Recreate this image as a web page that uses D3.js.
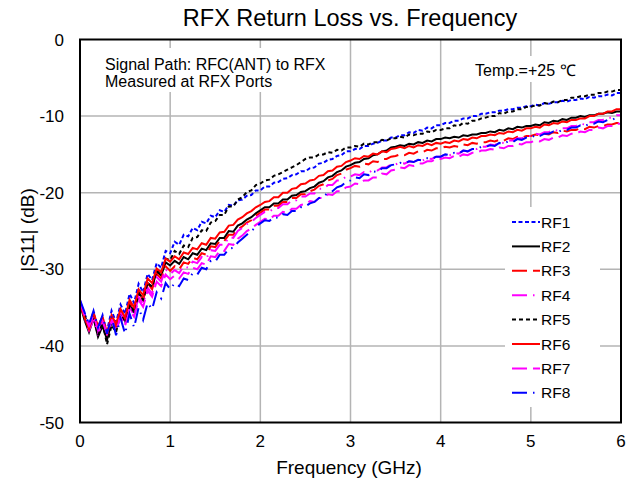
<!DOCTYPE html>
<html><head><meta charset="utf-8">
<script src="https://cdn.jsdelivr.net/npm/d3@7"></script>
<style>body{margin:0;background:#fff}svg text{font-family:"Liberation Sans",Arial,sans-serif;fill:#000}</style>
</head><body><svg id="c" width="632" height="482"></svg>
<script>
const FREQ = d3.range(121).map(i => +(i * 0.05).toFixed(2));
const X_TICKS = [0,1,2,3,4,5,6];
const Y_TICKS = [0,-10,-20,-30,-40,-50];
const SERIES_NAMES = ["RF1","RF2","RF3","RF4","RF5","RF6","RF7","RF8"];
const RF1 = [-34.2,-35.8,-37.2,-35.6,-37.8,-36.4,-38.0,-35.4,-36.9,-34.6,-35.8,-33.2,-34.4,-31.9,-33.0,-30.6,-31.4,-29.2,-29.8,-27.6,-27.9,
-26.4,-26.8,-25.5,-25.7,-24.6,-24.9,-23.8,-24.0,-23.0,-23.2,-22.3,-22.5,-21.6,-21.7,-21.0,-20.9,-20.4,-20.3,-19.7,-19.7,
-19.2,-19.2,-18.7,-18.6,-18.2,-18.1,-17.7,-17.6,-17.2,-17.2,-16.8,-16.7,-16.2,-16.1,-15.7,-15.6,-15.2,-15.1,-14.6,-14.6,
-14.3,-14.3,-13.9,-13.9,-13.6,-13.5,-13.2,-13.2,-12.8,-12.8,-12.5,-12.5,-12.1,-12.2,-11.8,-11.9,-11.5,-11.6,-11.2,-11.2,
-10.9,-10.9,-10.6,-10.6,-10.3,-10.3,-10.0,-10.0,-9.7,-9.7,-9.5,-9.5,-9.3,-9.3,-9.1,-9.1,-8.9,-8.9,-8.7,-8.7,
-8.5,-8.6,-8.3,-8.4,-8.2,-8.2,-8.0,-8.1,-7.9,-7.9,-7.7,-7.8,-7.5,-7.6,-7.4,-7.4,-7.2,-7.3,-7.0,-7.0];
const RF2 = [-34.6,-36.6,-38.2,-36.4,-38.8,-37.4,-39.2,-36.9,-37.8,-35.6,-36.6,-34.7,-35.4,-33.0,-33.9,-31.8,-32.3,-30.3,-30.8,-29.1,-29.5,
-28.9,-29.3,-28.4,-28.7,-27.9,-28.1,-27.3,-27.5,-26.6,-26.7,-25.9,-25.9,-25.0,-25.1,-24.3,-24.0,-23.5,-23.2,-22.7,-22.3,
-21.9,-21.9,-21.4,-21.4,-20.9,-20.9,-20.4,-20.3,-19.9,-19.8,-19.4,-19.2,-18.7,-18.5,-18.0,-17.8,-17.3,-17.1,-16.6,-16.4,
-16.1,-16.0,-15.6,-15.5,-15.1,-15.0,-14.6,-14.5,-14.1,-14.0,-13.8,-13.9,-13.6,-13.7,-13.4,-13.5,-13.2,-13.3,-13.0,-13.0,
-12.8,-12.9,-12.7,-12.8,-12.5,-12.6,-12.4,-12.4,-12.2,-12.2,-12.0,-12.1,-11.8,-11.9,-11.6,-11.7,-11.4,-11.5,-11.3,-11.3,
-11.1,-11.2,-10.8,-10.9,-10.6,-10.7,-10.4,-10.5,-10.2,-10.2,-10.0,-10.1,-9.9,-9.9,-9.7,-9.7,-9.5,-9.6,-9.4,-9.4];
const RF3 = [-34.5,-36.1,-37.6,-35.9,-38.0,-36.6,-38.6,-36.2,-37.4,-35.3,-36.5,-34.3,-35.3,-33.0,-34.0,-31.8,-32.6,-30.6,-31.2,-29.6,-30.2,
-29.6,-30.0,-29.1,-29.3,-28.5,-28.7,-27.9,-28.1,-27.0,-27.1,-26.3,-26.3,-25.5,-25.5,-24.8,-24.4,-23.9,-23.6,-23.0,-22.6,
-22.2,-22.2,-21.7,-21.7,-21.2,-21.2,-20.7,-20.7,-20.2,-20.2,-19.8,-19.6,-19.1,-18.9,-18.4,-18.2,-17.7,-17.5,-17.0,-16.8,
-16.5,-16.6,-16.2,-16.3,-15.9,-16.0,-15.6,-15.6,-15.3,-15.2,-15.0,-15.1,-14.8,-14.9,-14.6,-14.7,-14.4,-14.5,-14.2,-14.2,
-14.0,-14.1,-13.9,-14.0,-13.7,-13.8,-13.5,-13.6,-13.4,-13.4,-13.2,-13.3,-13.1,-13.2,-12.9,-13.0,-12.7,-12.8,-12.6,-12.6,
-12.4,-12.5,-12.3,-12.4,-12.1,-12.2,-11.9,-12.0,-11.8,-11.8,-11.6,-11.7,-11.4,-11.5,-11.3,-11.3,-11.1,-11.1,-10.9,-10.9];
const RF4 = [-34.0,-36.4,-38.0,-36.6,-38.4,-37.0,-38.2,-36.4,-37.8,-35.6,-37.0,-35.0,-36.0,-33.6,-34.5,-32.4,-33.2,-31.0,-31.6,-30.0,-30.6,
-30.1,-30.5,-29.6,-29.8,-29.0,-29.2,-28.4,-28.6,-27.5,-27.6,-26.8,-26.8,-25.8,-25.9,-25.0,-24.6,-24.1,-23.8,-23.3,-22.9,
-22.5,-22.5,-22.0,-22.0,-21.5,-21.5,-21.0,-21.0,-20.5,-20.5,-20.1,-20.1,-19.5,-19.5,-19.0,-19.0,-18.4,-18.4,-17.9,-17.9,
-17.6,-17.7,-17.3,-17.4,-17.0,-17.1,-16.7,-16.7,-16.3,-16.3,-16.1,-16.2,-15.9,-16.0,-15.7,-15.8,-15.5,-15.6,-15.3,-15.3,
-15.0,-15.1,-14.8,-14.9,-14.5,-14.6,-14.3,-14.3,-14.0,-14.0,-13.7,-13.8,-13.4,-13.5,-13.2,-13.2,-12.9,-12.9,-12.6,-12.6,
-12.3,-12.4,-12.1,-12.1,-11.8,-11.9,-11.6,-11.6,-11.3,-11.3,-11.0,-11.1,-10.8,-10.8,-10.5,-10.5,-10.2,-10.2,-9.9,-9.9];
const RF5 = [-34.3,-36.0,-37.5,-36.2,-38.6,-37.0,-39.8,-37.3,-38.2,-35.9,-37.0,-34.8,-35.6,-33.2,-34.0,-31.8,-32.3,-30.2,-30.6,-28.6,-28.8,
-27.6,-28.0,-26.9,-27.1,-25.9,-25.8,-24.9,-25.0,-23.9,-23.7,-22.9,-22.9,-21.8,-21.8,-20.9,-20.6,-19.9,-19.7,-19.0,-18.8,
-18.4,-18.3,-17.8,-17.6,-17.3,-17.0,-16.7,-16.4,-16.0,-15.6,-15.4,-15.4,-15.0,-15.0,-14.7,-14.8,-14.4,-14.5,-14.1,-14.1,
-13.9,-14.0,-13.6,-13.7,-13.4,-13.4,-13.1,-13.2,-12.9,-12.9,-12.7,-12.8,-12.4,-12.5,-12.3,-12.3,-12.0,-12.1,-11.8,-11.8,
-11.6,-11.6,-11.2,-11.3,-10.9,-11.0,-10.6,-10.6,-10.3,-10.2,-10.0,-10.0,-9.6,-9.7,-9.4,-9.4,-9.1,-9.1,-8.8,-8.8,
-8.6,-8.6,-8.3,-8.4,-8.1,-8.2,-7.9,-7.9,-7.6,-7.6,-7.4,-7.4,-7.2,-7.2,-7.0,-7.0,-6.8,-6.8,-6.6,-6.6];
const RF6 = [-34.4,-36.3,-37.8,-35.7,-37.4,-36.2,-38.3,-36.0,-37.1,-35.2,-36.3,-34.0,-35.0,-32.6,-33.4,-31.2,-31.8,-29.9,-30.4,-28.6,-29.0,
-28.3,-28.7,-27.8,-28.0,-27.2,-27.4,-26.6,-26.8,-25.9,-26.0,-25.2,-25.1,-24.3,-24.2,-23.5,-23.2,-22.7,-22.4,-21.9,-21.6,
-21.2,-21.1,-20.6,-20.6,-20.0,-20.0,-19.5,-19.4,-18.9,-18.8,-18.4,-18.3,-17.8,-17.7,-17.2,-17.1,-16.6,-16.5,-16.0,-15.8,
-15.5,-15.6,-15.2,-15.3,-14.9,-15.0,-14.6,-14.7,-14.3,-14.2,-14.0,-14.2,-13.9,-14.1,-13.8,-13.9,-13.6,-13.8,-13.5,-13.6,
-13.4,-13.5,-13.2,-13.3,-13.0,-13.1,-12.8,-12.9,-12.6,-12.6,-12.4,-12.5,-12.2,-12.3,-12.0,-12.1,-11.8,-11.9,-11.6,-11.6,
-11.4,-11.5,-11.1,-11.2,-10.9,-11.0,-10.7,-10.8,-10.5,-10.5,-10.3,-10.3,-10.0,-10.0,-9.7,-9.7,-9.4,-9.4,-9.1,-9.1];
const RF7 = [-34.2,-36.0,-37.4,-36.0,-38.0,-36.8,-38.4,-36.8,-38.0,-36.2,-37.4,-35.3,-36.2,-34.0,-34.9,-32.8,-33.6,-31.6,-32.2,-30.7,-31.3,
-30.8,-31.2,-30.4,-30.6,-29.8,-30.0,-29.2,-29.4,-28.3,-28.4,-27.6,-27.6,-26.7,-26.8,-26.0,-25.6,-25.0,-24.7,-24.2,-23.8,
-23.4,-23.5,-23.0,-23.0,-22.5,-22.6,-22.1,-22.1,-21.6,-21.5,-21.1,-21.2,-20.7,-20.7,-20.2,-20.3,-19.8,-19.8,-19.3,-19.2,
-18.8,-18.9,-18.4,-18.4,-18.0,-18.0,-17.5,-17.6,-17.1,-17.0,-16.7,-16.8,-16.4,-16.5,-16.2,-16.2,-15.9,-15.9,-15.6,-15.6,
-15.4,-15.5,-15.2,-15.3,-15.0,-15.1,-14.8,-14.8,-14.5,-14.5,-14.3,-14.4,-14.1,-14.2,-13.9,-13.9,-13.6,-13.7,-13.4,-13.4,
-13.2,-13.3,-13.0,-13.1,-12.8,-12.8,-12.5,-12.6,-12.3,-12.3,-12.0,-12.1,-11.8,-11.8,-11.5,-11.6,-11.3,-11.3,-11.0,-11.0];
const RF8 = [-34.0,-35.6,-37.2,-35.4,-37.6,-36.0,-38.4,-36.2,-38.6,-36.4,-38.4,-35.8,-37.6,-35.0,-36.6,-34.4,-35.2,-33.0,-33.8,-31.8,-32.6,
-31.8,-32.2,-31.2,-31.4,-30.5,-30.7,-29.8,-30.0,-28.9,-29.0,-28.1,-28.1,-27.3,-27.2,-26.5,-26.0,-25.5,-25.0,-24.5,-24.0,
-23.6,-23.7,-23.2,-23.3,-22.8,-22.9,-22.4,-22.4,-21.9,-21.8,-21.4,-21.2,-20.7,-20.5,-20.0,-19.8,-19.3,-19.1,-18.6,-18.4,
-18.0,-18.1,-17.6,-17.7,-17.2,-17.3,-16.8,-16.8,-16.4,-16.3,-16.1,-16.2,-15.9,-16.0,-15.7,-15.8,-15.5,-15.6,-15.3,-15.3,
-15.0,-15.1,-14.8,-14.9,-14.5,-14.6,-14.3,-14.3,-14.0,-14.0,-13.8,-13.9,-13.5,-13.6,-13.3,-13.4,-13.0,-13.1,-12.8,-12.8,
-12.5,-12.6,-12.3,-12.3,-12.0,-12.1,-11.8,-11.8,-11.5,-11.5,-11.2,-11.3,-11.0,-11.0,-10.7,-10.8,-10.5,-10.5,-10.2,-10.2];

const seriesData = [RF1,RF2,RF3,RF4,RF5,RF6,RF7,RF8];
const styles = [
  {c:"#0000ff", d:"4,2.5"},
  {c:"#000000", d:null},
  {c:"#ff0000", d:"15,6"},
  {c:"#ff00ff", d:"15,6,1.5,6"},
  {c:"#000000", d:"4,3"},
  {c:"#ff0000", d:null},
  {c:"#ff00ff", d:"15,6"},
  {c:"#0000ff", d:"15,6,1.5,6"}
];

const svg = d3.select("#c");
const L = 80, R = 621, T = 39.5, B = 422.5;
const x = d3.scaleLinear().domain([0,6]).range([L,R]);
const y = d3.scaleLinear().domain([-50,0]).range([B,T]);

// grid
const grid = svg.append("g").attr("stroke","#b4b4b4").attr("stroke-width",1.5);
grid.selectAll("line.v").data(X_TICKS.slice(1,-1)).join("line")
  .attr("x1",d=>x(d)).attr("x2",d=>x(d)).attr("y1",T).attr("y2",B);
grid.selectAll("line.h").data(Y_TICKS.slice(1,-1)).join("line")
  .attr("x1",L).attr("x2",R).attr("y1",d=>y(d)).attr("y2",d=>y(d));

// curves
svg.append("clipPath").attr("id","pc").append("rect")
  .attr("x",L).attr("y",T).attr("width",R-L).attr("height",B-T);
const line = d3.line().x((d,i)=>x(FREQ[i])).y(d=>y(d));
const gl = svg.append("g").attr("clip-path","url(#pc)");
seriesData.forEach((s,k)=>{
  gl.append("path").datum(s).attr("d",line).attr("fill","none")
    .attr("stroke",styles[k].c).attr("stroke-width",2)
    .attr("stroke-dasharray",styles[k].d);
});

// annotation boxes
svg.append("rect").attr("x",97).attr("y",48).attr("width",238).attr("height",44).attr("fill","#fff");
svg.append("text").attr("x",105).attr("y",70).attr("font-size",16).text("Signal Path: RFC(ANT) to RFX");
svg.append("text").attr("x",105).attr("y",87).attr("font-size",16).text("Measured at RFX Ports");
svg.append("rect").attr("x",470).attr("y",56).attr("width",118).attr("height",26).attr("fill","#fff");
svg.append("text").attr("x",475).attr("y",76).attr("font-size",16).text("Temp.=+25 ℃");

// legend
svg.append("rect").attr("x",505).attr("y",207).attr("width",95).attr("height",200).attr("fill","#fff");
const lg = svg.append("g");
SERIES_NAMES.forEach((n,k)=>{
  const yy = 222 + k*24.4;
  lg.append("line").attr("x1",512).attr("x2",540).attr("y1",yy).attr("y2",yy)
    .attr("stroke",styles[k].c).attr("stroke-width",2).attr("stroke-dasharray",styles[k].d);
  lg.append("text").attr("x",541).attr("y",yy+5.5).attr("font-size",15.5).text(n);
});

// frame
svg.append("rect").attr("x",L).attr("y",T).attr("width",R-L).attr("height",B-T)
  .attr("fill","none").attr("stroke","#000").attr("stroke-width",2);

// tick labels
svg.append("g").selectAll("text").data(X_TICKS).join("text")
  .attr("x",d=>x(d)).attr("y",447).attr("text-anchor","middle").attr("font-size",17).text(d=>d);
svg.append("g").selectAll("text").data(Y_TICKS).join("text")
  .attr("x",64).attr("y",d=>y(d)+6).attr("text-anchor","end").attr("font-size",17).text(d=>d);

// titles
svg.append("text").attr("x",350).attr("y",26).attr("text-anchor","middle").attr("font-size",23.5).text("RFX Return Loss vs. Frequency");
svg.append("text").attr("x",349).attr("y",474).attr("text-anchor","middle").attr("font-size",19).text("Frequency (GHz)");
svg.append("text").attr("transform","translate(34,230) rotate(-90)").attr("text-anchor","middle").attr("font-size",19).text("|S11| (dB)");
</script></body></html>
